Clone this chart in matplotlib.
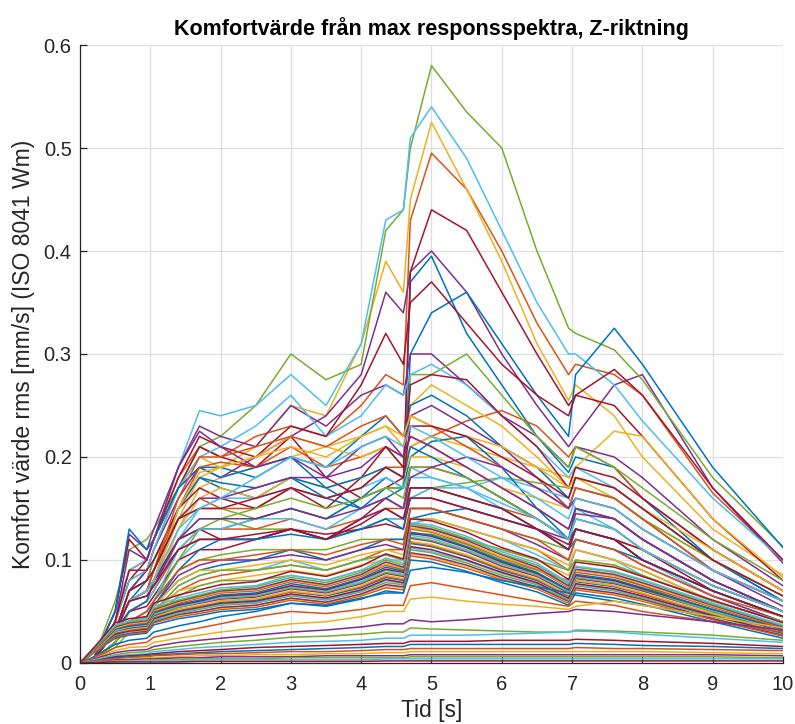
import matplotlib
matplotlib.use("Agg")
import matplotlib.pyplot as plt
from cycler import cycler

# sample times [s]
t = [0, 0.2, 0.5, 0.7, 0.95, 1.05, 1.4, 1.7, 2.0, 2.5, 3.0, 3.5, 4.0, 4.35,
     4.6, 4.7, 5.0, 5.5, 6.0, 6.5, 6.95, 7.05, 7.6, 8.0, 9.0, 10.0]

# highest responses (peaks just after 4.6 s)
top_curves = [
    [0, 0.005, 0.03, 0.07, 0.09, 0.11, 0.17, 0.19, 0.19, 0.18, 0.20, 0.17, 0.15, 0.16, 0.17, 0.37, 0.395, 0.32, 0.27, 0.22, 0.185, 0.20, 0.19, 0.16, 0.10, 0.06],
    [0, 0.005, 0.04, 0.09, 0.10, 0.12, 0.18, 0.21, 0.20, 0.22, 0.23, 0.22, 0.25, 0.28, 0.27, 0.43, 0.495, 0.46, 0.40, 0.33, 0.28, 0.29, 0.28, 0.26, 0.165, 0.10],
    [0, 0.005, 0.04, 0.08, 0.09, 0.11, 0.17, 0.20, 0.19, 0.21, 0.25, 0.24, 0.31, 0.39, 0.36, 0.45, 0.525, 0.46, 0.39, 0.31, 0.255, 0.27, 0.24, 0.20, 0.13, 0.085],
    [0, 0.005, 0.03, 0.07, 0.09, 0.11, 0.16, 0.19, 0.18, 0.20, 0.22, 0.24, 0.28, 0.36, 0.34, 0.38, 0.40, 0.36, 0.30, 0.25, 0.21, 0.22, 0.27, 0.28, 0.17, 0.097],
    [0, 0.005, 0.06, 0.11, 0.12, 0.13, 0.17, 0.21, 0.22, 0.25, 0.30, 0.275, 0.29, 0.42, 0.44, 0.50, 0.58, 0.535, 0.50, 0.40, 0.325, 0.32, 0.304, 0.275, 0.18, 0.113],
    [0, 0.005, 0.05, 0.09, 0.10, 0.12, 0.19, 0.245, 0.24, 0.25, 0.28, 0.25, 0.31, 0.43, 0.44, 0.51, 0.54, 0.49, 0.42, 0.35, 0.30, 0.30, 0.27, 0.235, 0.16, 0.10],
    [0, 0.005, 0.04, 0.08, 0.10, 0.12, 0.17, 0.21, 0.20, 0.19, 0.22, 0.18, 0.16, 0.17, 0.18, 0.38, 0.44, 0.42, 0.36, 0.30, 0.25, 0.26, 0.25, 0.22, 0.14, 0.08],
]

# intermediate responses
mid_curves = [
    [0, 0.005, 0.03, 0.06, 0.08, 0.10, 0.15, 0.18, 0.17, 0.16, 0.18, 0.16, 0.15, 0.17, 0.17, 0.30, 0.34, 0.36, 0.31, 0.26, 0.22, 0.28, 0.325, 0.29, 0.19, 0.112],
    [0, 0.005, 0.03, 0.06, 0.07, 0.09, 0.14, 0.16, 0.15, 0.15, 0.17, 0.16, 0.17, 0.19, 0.19, 0.21, 0.22, 0.235, 0.245, 0.23, 0.20, 0.21, 0.19, 0.16, 0.11, 0.07],
    [0, 0.004, 0.03, 0.06, 0.07, 0.08, 0.13, 0.17, 0.18, 0.19, 0.20, 0.21, 0.22, 0.23, 0.21, 0.25, 0.27, 0.25, 0.23, 0.20, 0.17, 0.19, 0.225, 0.22, 0.14, 0.083],
    [0, 0.005, 0.05, 0.125, 0.11, 0.13, 0.19, 0.23, 0.22, 0.21, 0.25, 0.23, 0.26, 0.27, 0.26, 0.30, 0.30, 0.27, 0.24, 0.22, 0.19, 0.21, 0.20, 0.18, 0.12, 0.075],
    [0, 0.004, 0.03, 0.07, 0.08, 0.10, 0.14, 0.15, 0.15, 0.14, 0.15, 0.14, 0.16, 0.17, 0.17, 0.28, 0.28, 0.30, 0.26, 0.22, 0.19, 0.21, 0.19, 0.17, 0.12, 0.08],
    [0, 0.005, 0.04, 0.08, 0.09, 0.11, 0.17, 0.20, 0.21, 0.23, 0.26, 0.22, 0.24, 0.27, 0.26, 0.28, 0.29, 0.27, 0.24, 0.21, 0.18, 0.19, 0.17, 0.15, 0.10, 0.065],
    [0, 0.005, 0.05, 0.12, 0.10, 0.12, 0.18, 0.22, 0.21, 0.20, 0.23, 0.22, 0.27, 0.32, 0.29, 0.35, 0.37, 0.33, 0.29, 0.26, 0.24, 0.26, 0.285, 0.26, 0.17, 0.10],

    [0, 0.005, 0.05, 0.13, 0.11, 0.12, 0.17, 0.19, 0.18, 0.19, 0.20, 0.19, 0.22, 0.24, 0.22, 0.25, 0.26, 0.24, 0.21, 0.19, 0.16, 0.18, 0.17, 0.15, 0.10, 0.06],
    [0, 0.004, 0.03, 0.06, 0.07, 0.09, 0.15, 0.19, 0.195, 0.19, 0.21, 0.19, 0.20, 0.21, 0.20, 0.22, 0.21, 0.19, 0.17, 0.15, 0.13, 0.15, 0.14, 0.12, 0.08, 0.05],
    [0, 0.004, 0.03, 0.05, 0.06, 0.08, 0.14, 0.18, 0.19, 0.20, 0.22, 0.21, 0.20, 0.21, 0.19, 0.21, 0.22, 0.21, 0.20, 0.19, 0.18, 0.18, 0.16, 0.14, 0.10, 0.065],
    [0, 0.005, 0.04, 0.11, 0.10, 0.12, 0.19, 0.225, 0.21, 0.19, 0.20, 0.18, 0.19, 0.21, 0.20, 0.24, 0.25, 0.23, 0.21, 0.18, 0.15, 0.17, 0.16, 0.14, 0.09, 0.055],
    [0, 0.004, 0.02, 0.05, 0.06, 0.07, 0.12, 0.14, 0.14, 0.13, 0.13, 0.12, 0.13, 0.14, 0.14, 0.16, 0.17, 0.175, 0.18, 0.175, 0.17, 0.17, 0.16, 0.14, 0.10, 0.065],
    [0, 0.003, 0.02, 0.04, 0.05, 0.06, 0.10, 0.12, 0.12, 0.12, 0.13, 0.12, 0.13, 0.14, 0.14, 0.16, 0.17, 0.17, 0.18, 0.17, 0.16, 0.15, 0.13, 0.11, 0.075, 0.05],
    [0, 0.005, 0.04, 0.09, 0.09, 0.10, 0.15, 0.17, 0.16, 0.15, 0.17, 0.15, 0.18, 0.21, 0.19, 0.27, 0.28, 0.275, 0.24, 0.21, 0.17, 0.19, 0.18, 0.16, 0.11, 0.07],

    [0, 0.004, 0.03, 0.06, 0.07, 0.08, 0.12, 0.13, 0.13, 0.14, 0.15, 0.14, 0.16, 0.18, 0.17, 0.20, 0.215, 0.22, 0.19, 0.15, 0.12, 0.15, 0.14, 0.12, 0.08, 0.05],
    [0, 0.004, 0.03, 0.05, 0.06, 0.07, 0.11, 0.13, 0.13, 0.13, 0.14, 0.13, 0.14, 0.15, 0.15, 0.17, 0.17, 0.16, 0.15, 0.14, 0.12, 0.13, 0.12, 0.11, 0.075, 0.05],
    [0, 0.004, 0.02, 0.05, 0.06, 0.07, 0.13, 0.16, 0.17, 0.16, 0.18, 0.17, 0.18, 0.19, 0.18, 0.20, 0.20, 0.19, 0.17, 0.16, 0.15, 0.16, 0.15, 0.13, 0.09, 0.06],
    [0, 0.004, 0.03, 0.06, 0.07, 0.08, 0.11, 0.12, 0.12, 0.12, 0.13, 0.12, 0.14, 0.15, 0.14, 0.16, 0.16, 0.15, 0.14, 0.13, 0.12, 0.145, 0.14, 0.12, 0.08, 0.05],
    [0, 0.003, 0.02, 0.04, 0.05, 0.06, 0.09, 0.10, 0.105, 0.11, 0.11, 0.11, 0.12, 0.12, 0.12, 0.15, 0.15, 0.14, 0.13, 0.12, 0.11, 0.13, 0.12, 0.10, 0.07, 0.045],
    [0, 0.004, 0.03, 0.05, 0.06, 0.07, 0.12, 0.15, 0.16, 0.16, 0.17, 0.16, 0.17, 0.18, 0.17, 0.19, 0.18, 0.17, 0.15, 0.13, 0.11, 0.13, 0.12, 0.10, 0.065, 0.04],
    [0, 0.004, 0.03, 0.06, 0.07, 0.08, 0.12, 0.13, 0.12, 0.12, 0.13, 0.12, 0.14, 0.16, 0.15, 0.19, 0.19, 0.18, 0.16, 0.14, 0.12, 0.14, 0.13, 0.11, 0.07, 0.045],

    [0, 0.003, 0.02, 0.04, 0.045, 0.055, 0.08, 0.09, 0.095, 0.10, 0.11, 0.10, 0.11, 0.12, 0.12, 0.14, 0.145, 0.15, 0.14, 0.13, 0.11, 0.12, 0.11, 0.10, 0.07, 0.045],
    [0, 0.003, 0.02, 0.035, 0.04, 0.05, 0.07, 0.08, 0.085, 0.09, 0.095, 0.09, 0.10, 0.11, 0.11, 0.14, 0.14, 0.13, 0.12, 0.11, 0.09, 0.11, 0.10, 0.09, 0.06, 0.04],
    [0, 0.003, 0.02, 0.035, 0.04, 0.05, 0.07, 0.075, 0.08, 0.085, 0.09, 0.085, 0.095, 0.10, 0.10, 0.135, 0.13, 0.12, 0.11, 0.10, 0.085, 0.10, 0.095, 0.085, 0.06, 0.04],
    [0, 0.003, 0.02, 0.04, 0.045, 0.055, 0.085, 0.095, 0.10, 0.10, 0.105, 0.10, 0.11, 0.115, 0.11, 0.15, 0.15, 0.14, 0.13, 0.115, 0.10, 0.12, 0.11, 0.095, 0.065, 0.04],
    [0, 0.003, 0.015, 0.03, 0.035, 0.045, 0.065, 0.075, 0.08, 0.08, 0.085, 0.08, 0.09, 0.095, 0.09, 0.125, 0.125, 0.115, 0.10, 0.09, 0.08, 0.09, 0.085, 0.075, 0.05, 0.035],
    [0, 0.003, 0.02, 0.035, 0.04, 0.05, 0.075, 0.085, 0.09, 0.09, 0.10, 0.09, 0.10, 0.105, 0.10, 0.135, 0.14, 0.13, 0.12, 0.105, 0.09, 0.11, 0.10, 0.085, 0.06, 0.04],
    [0, 0.004, 0.03, 0.05, 0.055, 0.065, 0.10, 0.11, 0.11, 0.12, 0.13, 0.125, 0.13, 0.135, 0.13, 0.16, 0.16, 0.15, 0.14, 0.13, 0.115, 0.13, 0.12, 0.11, 0.075, 0.05],

    [0, 0.004, 0.03, 0.05, 0.06, 0.08, 0.15, 0.18, 0.175, 0.17, 0.18, 0.17, 0.18, 0.19, 0.18, 0.21, 0.20, 0.18, 0.16, 0.14, 0.12, 0.13, 0.12, 0.10, 0.07, 0.045],
    [0, 0.004, 0.03, 0.06, 0.07, 0.09, 0.16, 0.20, 0.20, 0.21, 0.22, 0.21, 0.23, 0.24, 0.22, 0.24, 0.23, 0.21, 0.19, 0.17, 0.15, 0.17, 0.16, 0.14, 0.09, 0.06],
    [0, 0.004, 0.03, 0.06, 0.07, 0.08, 0.15, 0.185, 0.19, 0.20, 0.21, 0.20, 0.22, 0.23, 0.22, 0.24, 0.23, 0.22, 0.21, 0.19, 0.17, 0.18, 0.17, 0.15, 0.11, 0.07],
    [0, 0.004, 0.03, 0.07, 0.08, 0.09, 0.14, 0.16, 0.16, 0.17, 0.18, 0.18, 0.21, 0.22, 0.20, 0.22, 0.21, 0.19, 0.17, 0.15, 0.13, 0.15, 0.14, 0.12, 0.08, 0.05],
    [0, 0.003, 0.02, 0.04, 0.05, 0.06, 0.10, 0.13, 0.14, 0.15, 0.16, 0.15, 0.16, 0.17, 0.16, 0.19, 0.19, 0.18, 0.16, 0.14, 0.12, 0.14, 0.13, 0.11, 0.075, 0.05],
    [0, 0.003, 0.02, 0.04, 0.05, 0.06, 0.11, 0.13, 0.13, 0.14, 0.14, 0.13, 0.15, 0.16, 0.15, 0.18, 0.18, 0.17, 0.155, 0.14, 0.12, 0.14, 0.13, 0.11, 0.075, 0.05],
    [0, 0.004, 0.03, 0.07, 0.08, 0.09, 0.14, 0.15, 0.15, 0.16, 0.17, 0.16, 0.17, 0.19, 0.18, 0.23, 0.23, 0.22, 0.20, 0.18, 0.16, 0.18, 0.17, 0.15, 0.10, 0.065],

    [0, 0.003, 0.02, 0.04, 0.045, 0.055, 0.09, 0.11, 0.12, 0.12, 0.125, 0.12, 0.13, 0.14, 0.13, 0.17, 0.17, 0.16, 0.15, 0.13, 0.11, 0.13, 0.12, 0.10, 0.07, 0.045],
    [0, 0.003, 0.02, 0.04, 0.05, 0.06, 0.09, 0.10, 0.10, 0.105, 0.11, 0.105, 0.115, 0.12, 0.115, 0.15, 0.15, 0.14, 0.13, 0.12, 0.10, 0.12, 0.11, 0.095, 0.065, 0.045],
    [0, 0.003, 0.02, 0.04, 0.045, 0.055, 0.08, 0.09, 0.09, 0.095, 0.10, 0.095, 0.105, 0.11, 0.105, 0.14, 0.14, 0.13, 0.12, 0.11, 0.095, 0.11, 0.10, 0.09, 0.06, 0.04],
    [0, 0.004, 0.03, 0.06, 0.065, 0.075, 0.12, 0.14, 0.14, 0.14, 0.15, 0.14, 0.15, 0.16, 0.15, 0.18, 0.19, 0.20, 0.19, 0.17, 0.15, 0.16, 0.15, 0.13, 0.09, 0.06],
    [0, 0.003, 0.02, 0.035, 0.04, 0.05, 0.075, 0.085, 0.09, 0.09, 0.095, 0.09, 0.10, 0.105, 0.10, 0.13, 0.13, 0.12, 0.11, 0.10, 0.09, 0.10, 0.095, 0.085, 0.06, 0.04],
    [0, 0.004, 0.03, 0.06, 0.07, 0.08, 0.13, 0.15, 0.16, 0.18, 0.20, 0.19, 0.21, 0.22, 0.21, 0.23, 0.22, 0.20, 0.18, 0.16, 0.14, 0.16, 0.15, 0.13, 0.09, 0.06],
    [0, 0.004, 0.03, 0.06, 0.065, 0.075, 0.11, 0.12, 0.12, 0.125, 0.13, 0.12, 0.135, 0.15, 0.14, 0.17, 0.17, 0.16, 0.15, 0.13, 0.11, 0.13, 0.12, 0.10, 0.07, 0.045],
]

# the dense band of similar responses
bundle_curves = [
    [0, 0.010, 0.024, 0.027, 0.029, 0.037, 0.043, 0.046, 0.050, 0.052, 0.058, 0.055, 0.062, 0.070, 0.068, 0.100, 0.098, 0.089, 0.078, 0.069, 0.056, 0.068, 0.063, 0.057, 0.040, 0.024],
    [0, 0.010, 0.025, 0.028, 0.030, 0.039, 0.045, 0.048, 0.052, 0.054, 0.061, 0.057, 0.065, 0.073, 0.071, 0.104, 0.101, 0.092, 0.081, 0.072, 0.058, 0.071, 0.066, 0.060, 0.042, 0.026],
    [0, 0.011, 0.026, 0.029, 0.031, 0.040, 0.046, 0.050, 0.053, 0.056, 0.062, 0.059, 0.066, 0.075, 0.073, 0.106, 0.103, 0.093, 0.082, 0.073, 0.059, 0.072, 0.067, 0.061, 0.043, 0.027],
    [0, 0.011, 0.026, 0.029, 0.031, 0.040, 0.047, 0.050, 0.054, 0.056, 0.063, 0.059, 0.067, 0.076, 0.074, 0.107, 0.104, 0.095, 0.083, 0.074, 0.060, 0.073, 0.068, 0.062, 0.043, 0.027],
    [0, 0.011, 0.027, 0.030, 0.032, 0.041, 0.048, 0.052, 0.056, 0.058, 0.065, 0.061, 0.069, 0.078, 0.076, 0.110, 0.107, 0.097, 0.085, 0.076, 0.061, 0.075, 0.070, 0.063, 0.045, 0.028],
    [0, 0.012, 0.028, 0.030, 0.033, 0.042, 0.049, 0.053, 0.057, 0.059, 0.066, 0.062, 0.070, 0.080, 0.077, 0.112, 0.108, 0.099, 0.087, 0.077, 0.062, 0.076, 0.071, 0.064, 0.046, 0.029],
    [0, 0.012, 0.028, 0.031, 0.033, 0.043, 0.050, 0.054, 0.058, 0.060, 0.067, 0.063, 0.071, 0.081, 0.078, 0.113, 0.110, 0.100, 0.088, 0.078, 0.063, 0.077, 0.072, 0.065, 0.046, 0.029],
    [0, 0.012, 0.029, 0.032, 0.034, 0.044, 0.051, 0.055, 0.059, 0.061, 0.069, 0.065, 0.073, 0.083, 0.080, 0.116, 0.113, 0.103, 0.090, 0.080, 0.065, 0.079, 0.074, 0.067, 0.047, 0.030],
    [0, 0.012, 0.030, 0.032, 0.034, 0.045, 0.052, 0.055, 0.060, 0.062, 0.069, 0.066, 0.074, 0.084, 0.081, 0.117, 0.114, 0.104, 0.091, 0.081, 0.066, 0.080, 0.075, 0.067, 0.048, 0.030],
    [0, 0.012, 0.030, 0.033, 0.035, 0.045, 0.052, 0.056, 0.060, 0.062, 0.070, 0.066, 0.075, 0.085, 0.082, 0.118, 0.115, 0.105, 0.092, 0.082, 0.066, 0.080, 0.075, 0.068, 0.048, 0.030],
    [0, 0.013, 0.031, 0.034, 0.036, 0.046, 0.054, 0.058, 0.062, 0.064, 0.072, 0.068, 0.077, 0.087, 0.084, 0.121, 0.118, 0.108, 0.094, 0.084, 0.068, 0.082, 0.077, 0.070, 0.050, 0.031],
    [0, 0.013, 0.031, 0.035, 0.037, 0.047, 0.054, 0.059, 0.063, 0.065, 0.073, 0.069, 0.078, 0.088, 0.085, 0.122, 0.119, 0.109, 0.096, 0.085, 0.069, 0.083, 0.078, 0.071, 0.050, 0.032],
    [0, 0.013, 0.032, 0.035, 0.037, 0.048, 0.055, 0.059, 0.064, 0.066, 0.074, 0.070, 0.079, 0.090, 0.086, 0.124, 0.121, 0.110, 0.097, 0.086, 0.070, 0.084, 0.079, 0.072, 0.051, 0.032],
    [0, 0.013, 0.033, 0.036, 0.038, 0.049, 0.056, 0.060, 0.065, 0.067, 0.075, 0.071, 0.081, 0.091, 0.088, 0.126, 0.123, 0.112, 0.098, 0.087, 0.071, 0.085, 0.080, 0.072, 0.052, 0.033],
    [0, 0.013, 0.033, 0.036, 0.038, 0.049, 0.057, 0.061, 0.066, 0.068, 0.077, 0.072, 0.082, 0.093, 0.089, 0.127, 0.124, 0.113, 0.099, 0.088, 0.071, 0.086, 0.081, 0.073, 0.052, 0.033],
    [0, 0.014, 0.034, 0.037, 0.039, 0.050, 0.058, 0.063, 0.068, 0.070, 0.079, 0.074, 0.084, 0.095, 0.091, 0.130, 0.127, 0.116, 0.102, 0.091, 0.073, 0.088, 0.083, 0.075, 0.054, 0.034],
    [0, 0.014, 0.034, 0.038, 0.040, 0.051, 0.059, 0.064, 0.069, 0.071, 0.080, 0.075, 0.085, 0.096, 0.092, 0.131, 0.128, 0.117, 0.103, 0.092, 0.074, 0.090, 0.085, 0.077, 0.055, 0.035],
    [0, 0.014, 0.035, 0.039, 0.041, 0.052, 0.060, 0.065, 0.070, 0.072, 0.081, 0.076, 0.086, 0.098, 0.093, 0.133, 0.130, 0.119, 0.105, 0.093, 0.075, 0.091, 0.086, 0.078, 0.056, 0.035],
    [0, 0.014, 0.036, 0.040, 0.042, 0.053, 0.061, 0.066, 0.071, 0.074, 0.083, 0.078, 0.088, 0.100, 0.095, 0.135, 0.132, 0.121, 0.106, 0.095, 0.077, 0.093, 0.088, 0.080, 0.057, 0.036],
    [0, 0.015, 0.037, 0.041, 0.043, 0.055, 0.063, 0.068, 0.073, 0.075, 0.085, 0.080, 0.090, 0.102, 0.097, 0.136, 0.134, 0.123, 0.108, 0.097, 0.078, 0.094, 0.089, 0.081, 0.058, 0.037],
    [0, 0.015, 0.039, 0.043, 0.045, 0.058, 0.066, 0.071, 0.076, 0.079, 0.089, 0.084, 0.094, 0.106, 0.101, 0.140, 0.138, 0.127, 0.112, 0.101, 0.081, 0.098, 0.093, 0.084, 0.061, 0.039],
]

# weak responses below the band
low_curves = [
    [0, 0.006, 0.018, 0.022, 0.024, 0.030, 0.036, 0.040, 0.045, 0.050, 0.058, 0.056, 0.063, 0.068, 0.068, 0.090, 0.093, 0.088, 0.080, 0.074, 0.068, 0.066, 0.060, 0.056, 0.045, 0.034],
    [0, 0.005, 0.015, 0.018, 0.020, 0.025, 0.030, 0.034, 0.038, 0.045, 0.050, 0.048, 0.052, 0.056, 0.056, 0.075, 0.078, 0.072, 0.066, 0.060, 0.055, 0.060, 0.056, 0.050, 0.040, 0.030],
    [0, 0.004, 0.012, 0.015, 0.016, 0.020, 0.024, 0.027, 0.030, 0.034, 0.038, 0.040, 0.045, 0.050, 0.050, 0.062, 0.064, 0.060, 0.057, 0.055, 0.052, 0.055, 0.060, 0.056, 0.045, 0.034],
    [0, 0.004, 0.010, 0.012, 0.013, 0.016, 0.020, 0.022, 0.024, 0.027, 0.030, 0.032, 0.035, 0.038, 0.038, 0.042, 0.040, 0.042, 0.045, 0.048, 0.050, 0.052, 0.050, 0.047, 0.040, 0.032],
    [0, 0.003, 0.008, 0.010, 0.011, 0.013, 0.016, 0.018, 0.020, 0.022, 0.025, 0.026, 0.028, 0.030, 0.030, 0.034, 0.033, 0.032, 0.031, 0.030, 0.030, 0.032, 0.031, 0.030, 0.027, 0.022],
    [0, 0.003, 0.007, 0.008, 0.009, 0.011, 0.013, 0.015, 0.016, 0.018, 0.020, 0.021, 0.022, 0.024, 0.024, 0.027, 0.027, 0.027, 0.028, 0.029, 0.030, 0.031, 0.030, 0.028, 0.024, 0.020],
    [0, 0.002, 0.006, 0.007, 0.008, 0.009, 0.011, 0.012, 0.013, 0.015, 0.016, 0.017, 0.018, 0.019, 0.019, 0.021, 0.021, 0.021, 0.022, 0.022, 0.022, 0.023, 0.022, 0.021, 0.019, 0.016],
    [0, 0.002, 0.005, 0.006, 0.007, 0.008, 0.009, 0.010, 0.011, 0.012, 0.013, 0.014, 0.015, 0.016, 0.016, 0.018, 0.018, 0.018, 0.018, 0.018, 0.018, 0.019, 0.018, 0.017, 0.016, 0.014],
    [0, 0.002, 0.004, 0.005, 0.006, 0.007, 0.008, 0.009, 0.009, 0.010, 0.011, 0.011, 0.012, 0.013, 0.013, 0.014, 0.014, 0.014, 0.014, 0.014, 0.014, 0.015, 0.014, 0.014, 0.013, 0.012],
    [0, 0.001, 0.003, 0.004, 0.005, 0.005, 0.006, 0.007, 0.007, 0.008, 0.008, 0.009, 0.009, 0.010, 0.010, 0.011, 0.011, 0.011, 0.011, 0.011, 0.011, 0.011, 0.011, 0.011, 0.010, 0.009],
    [0, 0.001, 0.003, 0.003, 0.004, 0.004, 0.005, 0.005, 0.006, 0.006, 0.006, 0.007, 0.007, 0.007, 0.007, 0.008, 0.008, 0.008, 0.008, 0.008, 0.008, 0.008, 0.008, 0.008, 0.008, 0.007],
    [0, 0.001, 0.002, 0.002, 0.003, 0.003, 0.003, 0.004, 0.004, 0.004, 0.005, 0.005, 0.005, 0.005, 0.005, 0.006, 0.006, 0.006, 0.006, 0.006, 0.006, 0.006, 0.006, 0.006, 0.006, 0.005],
    [0, 0.001, 0.001, 0.002, 0.002, 0.002, 0.002, 0.003, 0.003, 0.003, 0.003, 0.003, 0.003, 0.004, 0.004, 0.004, 0.004, 0.004, 0.004, 0.004, 0.004, 0.004, 0.004, 0.004, 0.004, 0.004],
    [0, 0.0005, 0.001, 0.001, 0.001, 0.001, 0.001, 0.0015, 0.0015, 0.0015, 0.0015, 0.0015, 0.0015, 0.002, 0.002, 0.002, 0.002, 0.002, 0.002, 0.002, 0.002, 0.002, 0.002, 0.002, 0.002, 0.002],
]

x_ticks = list(range(0, 11))
y_ticks = [0, 0.1, 0.2, 0.3, 0.4, 0.5, 0.6]
y_tick_labels = ["0", "0.1", "0.2", "0.3", "0.4", "0.5", "0.6"]

# MATLAB default line colours
matlab_colors = ["#0072BD", "#D95319", "#EDB120", "#7E2F8E",
                 "#77AC30", "#4DBEEE", "#A2142F"]

plt.rcParams["font.family"] = ["Liberation Sans", "DejaVu Sans"]
plt.rcParams["axes.prop_cycle"] = cycler(color=matlab_colors)

fig = plt.figure(figsize=(7.95, 7.24), dpi=100)
ax = fig.add_axes([0.1006, 0.0843, 0.8843, 0.8535])

for group in (top_curves, mid_curves, bundle_curves, low_curves):
    for values in group:
        ax.plot(t, values, linewidth=1.1)

ax.set_xlim(0, 10)
ax.set_ylim(0, 0.6)
ax.set_xticks(x_ticks)
ax.set_yticks(y_ticks)
ax.set_yticklabels(y_tick_labels)

ax.grid(True, color="#dedede", linewidth=0.9)
ax.set_axisbelow(True)
for side in ("top", "right"):
    ax.spines[side].set_visible(False)
for side in ("left", "bottom"):
    ax.spines[side].set_color("#262626")
    ax.spines[side].set_linewidth(0.9)
ax.tick_params(direction="in", length=5, width=0.9, colors="#262626",
               labelsize=14.5)
ax.tick_params(axis="x", pad=9)
ax.tick_params(axis="y", pad=6)

ax.set_xlabel("Tid [s]", fontsize=16.5, color="#262626", labelpad=3)
ax.set_ylabel("Komfort värde rms [mm/s] (ISO 8041 Wm)", fontsize=16.5,
              color="#262626", labelpad=6)
ax.set_title("Komfortvärde från max responsspektra, Z-riktning",
             fontsize=15.5, fontweight="bold", pad=7)

fig.savefig("out.png", dpi=100)
